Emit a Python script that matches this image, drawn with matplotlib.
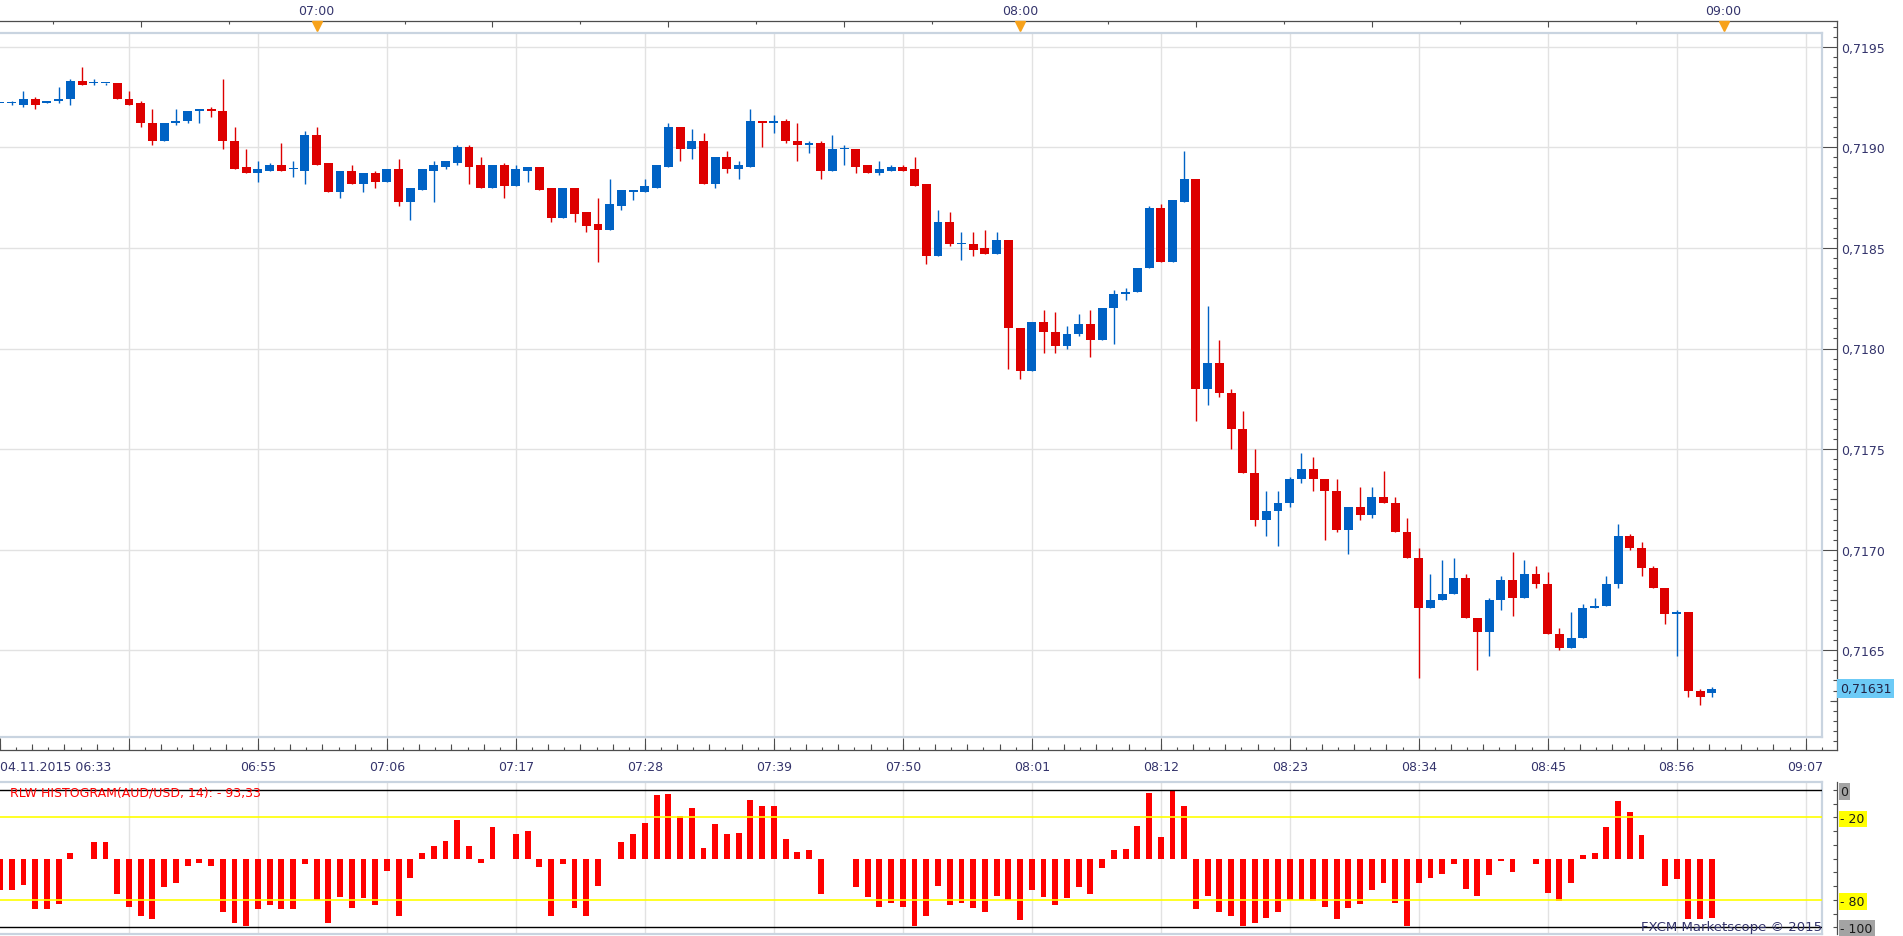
import matplotlib
matplotlib.use("Agg")
import matplotlib.pyplot as plt
import matplotlib.transforms as mtransforms
from matplotlib.ticker import MultipleLocator, FixedLocator, FuncFormatter
import numpy as np

# AUD/USD 1 minute candles, 04.11.2015 from 06:33
session_date = "04.11.2015"
first_minute = 6 * 60 + 33

opens = [
    0.71922, 0.71922, 0.71921, 0.71924, 0.71922, 0.71923, 0.71924, 0.71933, 0.71932, 0.71932,
    0.71932, 0.71924, 0.71922, 0.71912, 0.71903, 0.71912, 0.71913, 0.71918, 0.71919, 0.71918,
    0.71903, 0.71890, 0.71887, 0.71888, 0.71891, 0.71889, 0.71888, 0.71906, 0.71892, 0.71878,
    0.71888, 0.71882, 0.71887, 0.71883, 0.71889, 0.71873, 0.71879, 0.71888, 0.71890, 0.71892,
    0.71900, 0.71891, 0.71880, 0.71891, 0.71881, 0.71888, 0.71890, 0.71880, 0.71865, 0.71880,
    0.71868, 0.71862, 0.71859, 0.71871, 0.71878, 0.71878, 0.71880, 0.71890, 0.71910, 0.71899,
    0.71903, 0.71882, 0.71895, 0.71889, 0.71890, 0.71913, 0.71912, 0.71913, 0.71903, 0.71901,
    0.71902, 0.71888, 0.71899, 0.71899, 0.71891, 0.71887, 0.71888, 0.71890, 0.71889, 0.71882,
    0.71846, 0.71863, 0.71852, 0.71852, 0.71850, 0.71847, 0.71854, 0.71810, 0.71789, 0.71813,
    0.71808, 0.71801, 0.71807, 0.71812, 0.71804, 0.71820, 0.71827, 0.71828, 0.71840, 0.71870,
    0.71843, 0.71873, 0.71884, 0.71780, 0.71793, 0.71778, 0.71760, 0.71738, 0.71715, 0.71719,
    0.71723, 0.71735, 0.71740, 0.71735, 0.71729, 0.71710, 0.71721, 0.71717, 0.71726, 0.71723,
    0.71709, 0.71696, 0.71671, 0.71675, 0.71678, 0.71686, 0.71666, 0.71659, 0.71675, 0.71685,
    0.71676, 0.71688, 0.71683, 0.71658, 0.71651, 0.71656, 0.71671, 0.71672, 0.71683, 0.71707,
    0.71701, 0.71691, 0.71681, 0.71668, 0.71669, 0.71630, 0.71629,
]
highs = [
    0.71922, 0.71923, 0.71928, 0.71925, 0.71923, 0.71930, 0.71934, 0.71940, 0.71934, 0.71932,
    0.71932, 0.71928, 0.71923, 0.71919, 0.71912, 0.71919, 0.71918, 0.71919, 0.71920, 0.71934,
    0.71910, 0.71899, 0.71893, 0.71892, 0.71902, 0.71893, 0.71908, 0.71910, 0.71892, 0.71888,
    0.71891, 0.71887, 0.71888, 0.71889, 0.71894, 0.71880, 0.71889, 0.71893, 0.71893, 0.71901,
    0.71901, 0.71895, 0.71891, 0.71892, 0.71891, 0.71890, 0.71890, 0.71880, 0.71880, 0.71880,
    0.71868, 0.71875, 0.71884, 0.71879, 0.71879, 0.71884, 0.71891, 0.71912, 0.71910, 0.71909,
    0.71907, 0.71895, 0.71898, 0.71893, 0.71919, 0.71913, 0.71916, 0.71914, 0.71912, 0.71903,
    0.71903, 0.71906, 0.71901, 0.71899, 0.71891, 0.71893, 0.71891, 0.71891, 0.71895, 0.71882,
    0.71869, 0.71868, 0.71858, 0.71858, 0.71859, 0.71858, 0.71854, 0.71810, 0.71813, 0.71819,
    0.71818, 0.71811, 0.71817, 0.71819, 0.71820, 0.71829, 0.71830, 0.71840, 0.71871, 0.71872,
    0.71874, 0.71898, 0.71884, 0.71821, 0.71804, 0.71780, 0.71769, 0.71750, 0.71729, 0.71729,
    0.71736, 0.71748, 0.71746, 0.71735, 0.71735, 0.71721, 0.71731, 0.71731, 0.71739, 0.71726,
    0.71716, 0.71701, 0.71688, 0.71695, 0.71696, 0.71688, 0.71666, 0.71676, 0.71687, 0.71699,
    0.71695, 0.71692, 0.71689, 0.71661, 0.71669, 0.71673, 0.71676, 0.71687, 0.71713, 0.71708,
    0.71704, 0.71692, 0.71681, 0.71670, 0.71669, 0.71631, 0.71632,
]
lows = [
    0.71922, 0.71921, 0.71920, 0.71919, 0.71922, 0.71922, 0.71921, 0.71931, 0.71931, 0.71931,
    0.71924, 0.71921, 0.71910, 0.71901, 0.71903, 0.71911, 0.71912, 0.71912, 0.71915, 0.71899,
    0.71889, 0.71887, 0.71883, 0.71888, 0.71888, 0.71885, 0.71882, 0.71891, 0.71878, 0.71875,
    0.71882, 0.71878, 0.71880, 0.71883, 0.71871, 0.71864, 0.71879, 0.71873, 0.71889, 0.71891,
    0.71882, 0.71880, 0.71880, 0.71875, 0.71881, 0.71883, 0.71879, 0.71863, 0.71865, 0.71863,
    0.71858, 0.71843, 0.71859, 0.71869, 0.71874, 0.71878, 0.71880, 0.71890, 0.71893, 0.71894,
    0.71882, 0.71880, 0.71887, 0.71884, 0.71890, 0.71900, 0.71907, 0.71902, 0.71893, 0.71897,
    0.71884, 0.71888, 0.71891, 0.71887, 0.71887, 0.71886, 0.71888, 0.71888, 0.71881, 0.71842,
    0.71846, 0.71851, 0.71844, 0.71846, 0.71847, 0.71847, 0.71790, 0.71785, 0.71789, 0.71798,
    0.71798, 0.71800, 0.71806, 0.71796, 0.71804, 0.71802, 0.71824, 0.71828, 0.71840, 0.71843,
    0.71843, 0.71873, 0.71764, 0.71772, 0.71776, 0.71750, 0.71738, 0.71712, 0.71707, 0.71702,
    0.71721, 0.71733, 0.71729, 0.71705, 0.71709, 0.71698, 0.71715, 0.71716, 0.71723, 0.71709,
    0.71696, 0.71636, 0.71671, 0.71675, 0.71678, 0.71666, 0.71640, 0.71647, 0.71670, 0.71667,
    0.71676, 0.71681, 0.71658, 0.71650, 0.71651, 0.71656, 0.71671, 0.71672, 0.71681, 0.71700,
    0.71687, 0.71681, 0.71663, 0.71647, 0.71627, 0.71623, 0.71627,
]
closes = [
    0.71922, 0.71922, 0.71924, 0.71921, 0.71923, 0.71924, 0.71933, 0.71931, 0.71932, 0.71932,
    0.71924, 0.71921, 0.71912, 0.71903, 0.71912, 0.71913, 0.71918, 0.71919, 0.71918, 0.71903,
    0.71889, 0.71887, 0.71889, 0.71891, 0.71888, 0.71889, 0.71906, 0.71891, 0.71878, 0.71888,
    0.71882, 0.71887, 0.71883, 0.71889, 0.71873, 0.71880, 0.71889, 0.71891, 0.71893, 0.71900,
    0.71890, 0.71880, 0.71891, 0.71881, 0.71889, 0.71890, 0.71879, 0.71865, 0.71880, 0.71867,
    0.71861, 0.71859, 0.71872, 0.71879, 0.71879, 0.71881, 0.71891, 0.71910, 0.71899, 0.71903,
    0.71882, 0.71895, 0.71889, 0.71891, 0.71913, 0.71912, 0.71913, 0.71903, 0.71901, 0.71902,
    0.71888, 0.71899, 0.71899, 0.71890, 0.71887, 0.71889, 0.71890, 0.71888, 0.71881, 0.71846,
    0.71863, 0.71852, 0.71852, 0.71849, 0.71847, 0.71854, 0.71810, 0.71789, 0.71813, 0.71808,
    0.71801, 0.71807, 0.71812, 0.71804, 0.71820, 0.71827, 0.71828, 0.71840, 0.71870, 0.71843,
    0.71874, 0.71884, 0.71780, 0.71793, 0.71778, 0.71760, 0.71738, 0.71715, 0.71719, 0.71723,
    0.71735, 0.71740, 0.71735, 0.71729, 0.71710, 0.71721, 0.71717, 0.71726, 0.71723, 0.71709,
    0.71696, 0.71671, 0.71675, 0.71678, 0.71686, 0.71666, 0.71659, 0.71675, 0.71685, 0.71676,
    0.71688, 0.71683, 0.71658, 0.71651, 0.71656, 0.71671, 0.71672, 0.71683, 0.71707, 0.71701,
    0.71691, 0.71681, 0.71668, 0.71669, 0.71630, 0.71627, 0.71631,
]

# RLW (Williams %R, 14) histogram values
rlw = [
    -73, -73, -69, -87, -87, -83, -46, -50, -38, -38,
    -76, -85, -92, -94, -71, -68, -55, -53, -55, -89,
    -97, -99, -87, -84, -87, -87, -54, -80, -97, -78,
    -86, -79, -84, -59, -92, -64, -46, -41, -37, -22,
    -41, -53, -27, -50, -32, -30, -56, -92, -54, -86,
    -92, -70, -50, -38, -32, -24, -4, -3, -19, -13,
    -42, -25, -32, -31, -7, -12, -12, -36, -45, -44,
    -76, -50, -50, -71, -78, -85, -82, -85, -99, -92,
    -70, -84, -82, -86, -89, -77, -80, -95, -73, -78,
    -84, -79, -71, -76, -57, -44, -43, -26, -2, -34,
    0, -12, -87, -77, -89, -92, -99, -97, -93, -89,
    -80, -80, -81, -85, -94, -86, -83, -73, -68, -82,
    -99, -68, -64, -61, -54, -72, -77, -62, -52, -60,
    -50, -54, -75, -81, -68, -47, -46, -27, -8, -16,
    -33, -50, -70, -65, -94, -94, -93.33,
]
rlw_levels = [0, -20, -80, -100]

o = np.array(opens)
h = np.array(highs)
l = np.array(lows)
c = np.array(closes)
r = np.array(rlw)
idx = np.arange(len(o))

RED = "#dd0000"
BLUE = "#0062c4"
NAVY = "#34346c"
AXC = "#4d4d4d"
BORDER = "#c9d4e0"
GRID = "#e2e2e2"
cols = np.where(c >= o, BLUE, RED)

W, H = 1903, 937
fig = plt.figure(figsize=(W / 100, H / 100), dpi=100)
fig.patch.set_facecolor("white")


def fx(px):
    return px / W


def box(x0, y0, x1, y1):
    return [x0 / W, 1 - y1 / H, (x1 - x0) / W, (y1 - y0) / H]


def x_at(px):
    return px / 11.725


def price_at(py):
    return 0.7195 - (py - 47.7) / 201200


def rlw_at(py):
    return -(py - 791) / 1.373


def hhmm(i):
    t = first_minute + int(round(i))
    return "%02d:%02d" % (t // 60, t % 60)


def pricefmt(v, pos=None):
    return ("%.4f" % v).replace(".", ",")


# ---- price frame (axis lines and ticks) ----
axf = fig.add_axes(box(0, 21.5, 1837, 751))
axr = axf.twinx()
axt = axf.twiny()
axm = axf.twiny()
for a in (axf, axr, axt, axm):
    a.set_xlim(0, x_at(1837))
    a.set_ylim(price_at(751), price_at(21.5))
for a in (axr, axt, axm):
    for s in a.spines.values():
        s.set_visible(False)
axf.spines["left"].set_visible(False)
for s in ("top", "bottom", "right"):
    axf.spines[s].set_color(AXC)
    axf.spines[s].set_linewidth(0.9)

axf.yaxis.set_major_locator(MultipleLocator(0.0005))
axf.yaxis.set_minor_locator(MultipleLocator(0.00005))
axf.yaxis.set_major_formatter(FuncFormatter(pricefmt))
axf.tick_params(axis="y", which="both", left=False, labelleft=False, right=True, labelright=True)
axf.tick_params(axis="y", which="major", direction="in", length=10.8, width=0.8,
                color=AXC, labelsize=9, labelcolor=NAVY, pad=2.7)
axf.tick_params(axis="y", which="minor", direction="in", length=2.9, width=0.8, color=AXC)
axr.yaxis.set_major_locator(FixedLocator(np.arange(0.71625, 0.7196, 0.0005)))
axr.tick_params(axis="y", direction="in", length=5, width=0.8, color=AXC,
                left=False, labelleft=False, right=True, labelright=False)

major_x = np.arange(0, x_at(1837), 11)
major_lab = [session_date + " " + hhmm(i) if i == 0 else ("" if i == 11 else hhmm(i))
             for i in major_x]
axf.set_xticks(major_x, labels=major_lab)
axf.xaxis.set_minor_locator(MultipleLocator(11 / 8))
axf.tick_params(axis="x", which="major", direction="in", length=8.6, width=0.8,
                color=AXC, labelsize=9, labelcolor=NAVY, pad=7)
axf.tick_params(axis="x", which="minor", direction="in", length=2.2, width=0.8, color=AXC)
axf.get_xticklabels()[0].set_horizontalalignment("left")
axm.xaxis.tick_bottom()
axm.xaxis.set_major_locator(MultipleLocator(11 / 4))
axm.tick_params(axis="x", direction="in", length=4.3, width=0.8, color=AXC,
                labelbottom=False, labeltop=False)

quarters = np.arange(12, x_at(1837), 15)
axt.set_xticks(quarters, labels=[hhmm(i) if (first_minute + i) % 60 == 0 else "" for i in quarters])
axt.xaxis.set_minor_locator(FixedLocator(quarters - 7.5))
axt.tick_params(axis="x", which="major", direction="in", length=4.3, width=0.8,
                color=AXC, labelsize=9, labelcolor=NAVY, pad=2.5)
axt.tick_params(axis="x", which="minor", direction="in", length=2.2, width=0.8, color=AXC)
hours = [i for i in quarters if (first_minute + i) % 60 == 0]
tri = mtransforms.offset_copy(mtransforms.blended_transform_factory(axt.transData, axt.transAxes),
                              fig=fig, y=-5.5, units="dots")
axt.plot(hours, [1] * len(hours), ls="none", marker="v", ms=7, color="#f7a21b",
         transform=tri, clip_on=False)

lastlab = mtransforms.offset_copy(mtransforms.blended_transform_factory(axf.transAxes, axf.transData),
                                  fig=fig, x=3, units="dots")
axf.text(1, c[-1], ("%.5f" % c[-1]).replace(".", ","), transform=lastlab, ha="left",
         va="center", fontsize=9, color="#222244", clip_on=False, zorder=5,
         bbox=dict(boxstyle="square,pad=0.22", fc="#6ccaf6", ec="none"))

# ---- price panel ----
ax = fig.add_axes(box(0, 34, 1822, 738))
ax.patch.set_alpha(0)
ax.set_xlim(0, x_at(1822))
ax.set_ylim(price_at(738), price_at(34))
ax.set_xticks(np.arange(11, x_at(1822), 11))
ax.set_yticks(np.arange(0.7165, 0.71951, 0.0005))
ax.grid(True, color=GRID, lw=1.0)
ax.set_axisbelow(True)
ax.tick_params(length=0, labelbottom=False, labelleft=False)
ax.spines["left"].set_visible(False)
for s in ("top", "right", "bottom"):
    ax.spines[s].set_color(BORDER)
    ax.spines[s].set_linewidth(1.6)

ax.vlines(idx, l, h, colors=cols, lw=1.0, zorder=2)
ax.bar(idx, np.maximum(np.abs(c - o), 0.000006), bottom=np.minimum(o, c), width=0.76,
       color=cols, linewidth=0, zorder=3)

# ---- indicator ----
axif = fig.add_axes(box(0, 783, 1837, 935))
axif.set_xlim(0, x_at(1837))
axif.set_ylim(rlw_at(935), rlw_at(783))
for s in ("left", "top", "bottom"):
    axif.spines[s].set_visible(False)
axif.spines["right"].set_color(AXC)
axif.spines["right"].set_linewidth(0.9)
axif.set_xticks([])
axif.set_yticks(rlw_levels, labels=["0", "- 20", "- 80", "- 100"])
axif.yaxis.set_minor_locator(FixedLocator([-10, -30, -40, -50, -60, -70, -90]))
axif.tick_params(axis="y", which="both", left=False, labelleft=False, right=True, labelright=True)
axif.tick_params(axis="y", which="major", direction="in", length=3, width=0.8, color=AXC,
                 labelsize=9, labelcolor="#1a1a1a", pad=2.5)
axif.tick_params(axis="y", which="minor", direction="in", length=3, width=0.8, color=AXC)
for lab, fc in zip(axif.get_yticklabels(which="major"), ["#a3a3a3", "#ffff00", "#ffff00", "#a3a3a3"]):
    lab.set_bbox(dict(boxstyle="square,pad=0.15", fc=fc, ec="none"))

axi = fig.add_axes(box(0, 783, 1822, 935))
axi.patch.set_alpha(0)
axi.set_xlim(0, x_at(1822))
axi.set_ylim(rlw_at(935), rlw_at(783))
axi.set_xticks(np.arange(11, x_at(1822), 11))
axi.set_yticks([])
axi.grid(True, axis="x", color=GRID, lw=1.0)
axi.set_axisbelow(True)
axi.tick_params(length=0, labelbottom=False, labelleft=False)
axi.spines["left"].set_visible(False)
for s in ("top", "right", "bottom"):
    axi.spines[s].set_color(BORDER)
    axi.spines[s].set_linewidth(1.6)
axi.bar(idx, r + 50, bottom=-50, width=0.5, color="#ff0000", linewidth=0, zorder=2)
for lv in rlw_levels:
    if lv in (0, -100):
        axi.axhline(lv, color="black", lw=1.0, zorder=3)
    else:
        axi.axhline(lv, color="#ffff00", lw=1.2, zorder=3)

fig.text(fx(10), 1 - 793 / H,
         "RLW HISTOGRAM(AUD/USD, 14): - " + ("%.2f" % abs(r[-1])).replace(".", ","),
         color="#ff0000", fontsize=9, va="center", ha="left")
fig.text(fx(1822), 1 - 928 / H, "FXCM Marketscope \u00a9 2015", color=NAVY,
         fontsize=9.5, va="center", ha="right")

fig.savefig("out.png", dpi=100, facecolor="white")
